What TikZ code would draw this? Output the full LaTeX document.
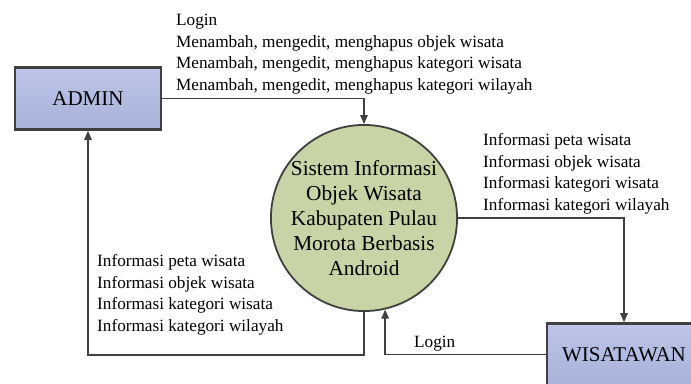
\documentclass[tikz,border=0pt]{standalone}
\usepackage{fontspec}
\setmainfont{Liberation Serif}
\usetikzlibrary{arrows.meta}

\definecolor{linegray}{RGB}{64,64,64}
\definecolor{boxtop}{RGB}{188,196,232}
\definecolor{boxbottom}{RGB}{168,178,218}
\definecolor{procfill}{RGB}{200,212,166}

\begin{document}
\begin{tikzpicture}[x=1pt,y=-1pt,
  entity/.style={draw=linegray, line width=2.6pt, top color=boxtop, bottom color=boxbottom,
    minimum width=146pt, minimum height=62pt, inner sep=0pt,
    font=\fontsize{21}{24}\selectfont},
  process/.style={circle, draw=linegray, line width=1.8pt, fill=procfill,
    minimum size=184pt, inner sep=0pt, align=center,
    font=\fontsize{21.3}{25}\selectfont},
  flow/.style={draw=linegray, line width=1.3pt, -{Triangle[length=9pt,width=7.5pt]}},
  lbl/.style={anchor=north west, align=left, inner sep=0pt,
    font=\fontsize{17.2}{21.7}\selectfont}]

\useasboundingbox (0,0) rectangle (691,383);

% external entities and the central process
\node[entity] (admin) at (88,98.5) {ADMIN};
\node[entity, minimum width=154pt] (wis) at (624,354.5) {WISATAWAN};
\node[process] (sys) at (364,218) {Sistem Informasi\\Objek Wisata\\Kabupaten Pulau\\Morota Berbasis\\Android};

% corner of the return flow to the admin
\coordinate (low) at (0,355);

% data flows
\draw[flow] (admin.east) -| (sys.north);
\draw[flow] (sys.south) -- (sys.south |- low) -| (admin.south);
\draw[flow] (sys.east) -| (wis.north);
\draw[flow] (wis.west) -| (sys.-77);

% flow labels
\node[lbl] (inadmin) at (176,14) {Login\\Menambah, mengedit, menghapus objek wisata\\Menambah, mengedit, menghapus kategori wisata\\Menambah, mengedit, menghapus kategori wilayah};
\node[lbl] (outwis) at (483,133) {Informasi peta wisata\\Informasi objek wisata\\Informasi kategori wisata\\Informasi kategori wilayah};
\node[lbl] (outadmin) at (97,254) {Informasi peta wisata\\Informasi objek wisata\\Informasi kategori wisata\\Informasi kategori wilayah};
\node[lbl] (inwis) at (414,336) {Login};
\end{tikzpicture}
\end{document}
